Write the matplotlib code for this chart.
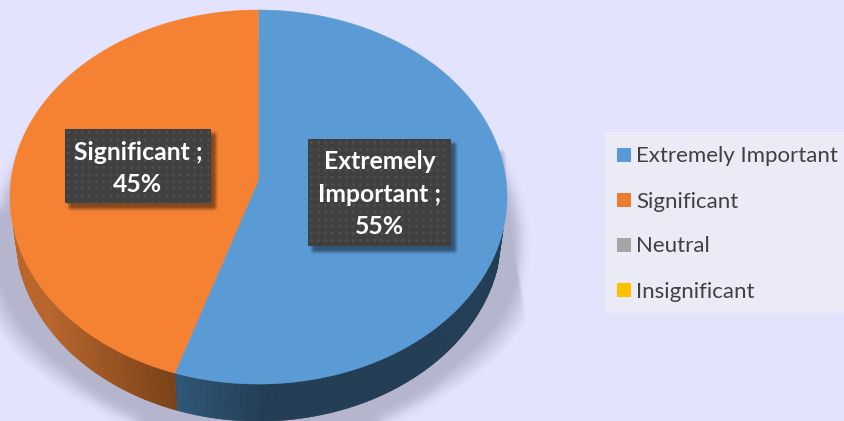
import numpy as np
import matplotlib
matplotlib.use("Agg")
import matplotlib.pyplot as plt
from matplotlib.patches import Rectangle
from matplotlib.collections import PolyCollection

plt.rcParams["font.family"] = ["Lato", "DejaVu Sans"]

categories = ["Extremely Important", "Significant", "Neutral", "Insignificant"]
values = [55, 45, 0, 0]
legend_colors = ["#5B9BD5", "#ED7D31", "#A5A5A5", "#FFC000"]
top_colors = ["#5B9BD5", "#F58232"]
side_light = ["#2F5778", "#B9662B"]
side_dark = ["#233D54", "#7A4117"]
label_text = ["Extremely\nImportant ;\n55%", "Significant ;\n45%"]

W, H = 844, 421
BG = "#E3E3FE"

fig = plt.figure(figsize=(W / 100, H / 100), dpi=100, facecolor=BG)
ax = fig.add_axes([0, 0, 1, 1])
ax.set_xlim(0, W)
ax.set_ylim(H, 0)
ax.axis("off")


# tilted disc: a circle seen in perspective, angles run clockwise from the top
def disc(theta, cx, cy, sx, sy, p=0.091):
    u, v = np.sin(theta), np.cos(theta)
    w = 1 + p * v
    return cx + sx * u / w, cy - sy * v / w


def top(theta):
    return disc(theta, 258.5, 180, 247.5, 185.5)


def bottom(theta):
    return disc(theta, 258.5, 216, 242, 186.5)


def blur(a, r, n=3):
    kernel = np.ones(2 * r + 1) / (2 * r + 1)
    a = np.pad(a, 3 * r * n, mode="edge")
    for _ in range(n):
        a = np.apply_along_axis(lambda m: np.convolve(m, kernel, mode="same"), 0, a)
        a = np.apply_along_axis(lambda m: np.convolve(m, kernel, mode="same"), 1, a)
    return a[3 * r * n:-3 * r * n, 3 * r * n:-3 * r * n]


def shadow_layer(alpha_map, color, z):
    rgba = np.zeros((H, W, 4))
    rgba[..., :3] = matplotlib.colors.to_rgb(color)
    rgba[..., 3] = alpha_map
    ax.imshow(rgba, extent=(0, W, H, 0), zorder=z, aspect="auto", interpolation="bilinear")


yy, xx = np.mgrid[0:H, 0:W]

# soft shadow under the pie, plus the straighter flanks running down both sides
soft = blur((((xx - 258) / 262.0) ** 2 + ((yy - 243) / 200.0) ** 2 <= 1).astype(float), 5)
right_edge = 503 + (yy - 150) * 19 / 150
left_edge = 11 - (yy - 170) * 10 / 70
in_flank = (xx < right_edge) & (yy > 150) & ((xx > 258) | ((xx > left_edge) & (yy > 172)))
flank = blur(in_flank.astype(float), 1)
r = np.sqrt(((xx - 258) / 280.0) ** 2 + ((yy - 243) / 192.0) ** 2)
flank = flank * np.maximum(np.clip((1.04 - r) / 0.1, 0, 1), np.clip((290 - yy) / 30, 0, 1))
shadow_layer(np.maximum(soft, flank) * 0.52, "#8A8BA2", 1)

ends = np.cumsum(values[:2]) / 100 * 2 * np.pi
starts = np.r_[0, ends[:-1]]

# side wall, shaded along the arc
for i in range(2):
    t = np.linspace(starts[i], ends[i], 300)
    x0, y0 = top(t)
    x1, y1 = bottom(t)
    quads, cols = [], []
    c0 = np.array(matplotlib.colors.to_rgb(side_dark[i]))
    c1 = np.array(matplotlib.colors.to_rgb(side_light[i]))
    for k in range(len(t) - 1):
        if y0[k] < 228:
            continue
        quads.append([(x0[k], y0[k]), (x0[k + 1], y0[k + 1]), (x1[k + 1], y1[k + 1]), (x1[k], y1[k])])
        f = np.clip((x0[k] - 175) / 90, 0, 1) if i == 0 else np.clip((175 - x0[k]) / 130, 0, 1)
        cols.append(c1 + (c0 - c1) * f if i == 0 else c0 + (c1 - c0) * f)
    ax.add_collection(PolyCollection(quads, facecolors=cols, edgecolors=cols, linewidths=0.5, zorder=2))

# top surface, one wedge per value
for i in range(2):
    t = np.linspace(starts[i], ends[i], 300)
    x, y = top(t)
    ax.fill(np.r_[258.5, x], np.r_[180, y], color=top_colors[i], lw=0.3, zorder=3)

# data labels: dark boxes with a dotted texture and a drop shadow
boxes = [(308, 139, 143, 107), (65, 129, 146, 74)]
text_drop = [1.5, 2.5]
for (bx, by, bw, bh), txt, drop in zip(boxes, label_text, text_drop):
    m = (xx >= bx + 4) & (xx < bx + bw + 5) & (yy >= by + 4) & (yy < by + bh + 6)
    shadow_layer(blur(m.astype(float), 1) * 0.45, "#000000", 4)
    ax.add_patch(Rectangle((bx, by), bw, bh, fc="#404040", ec="none", zorder=5))
    gx, gy = np.meshgrid(np.arange(bx + 3, bx + bw, 7), np.arange(by + 3, by + bh, 7))
    ax.scatter(gx.ravel(), gy.ravel(), s=4.5, c="#4E4E4E", linewidths=0, zorder=6)
    ax.text(bx + bw / 2, by + bh / 2 + drop, txt, color="white", fontsize=17.8, fontweight="bold",
            ha="center", va="center", linespacing=1.5, zorder=7)

# legend
ax.add_patch(Rectangle((605, 132), 239, 181, fc="#EBEBF8", ec="none", zorder=2))
for i, name in enumerate(categories):
    yc = 155 + i * 45
    ax.add_patch(Rectangle((617, yc - 7), 14, 14, fc=legend_colors[i], ec="none", zorder=3))
    ax.text(636.5, yc + 1.5, name, color="#404040", fontsize=16, ha="left", va="center", zorder=3)

ax.set_xlim(0, W)
ax.set_ylim(H, 0)
fig.savefig("out.png", dpi=100, facecolor=BG)
